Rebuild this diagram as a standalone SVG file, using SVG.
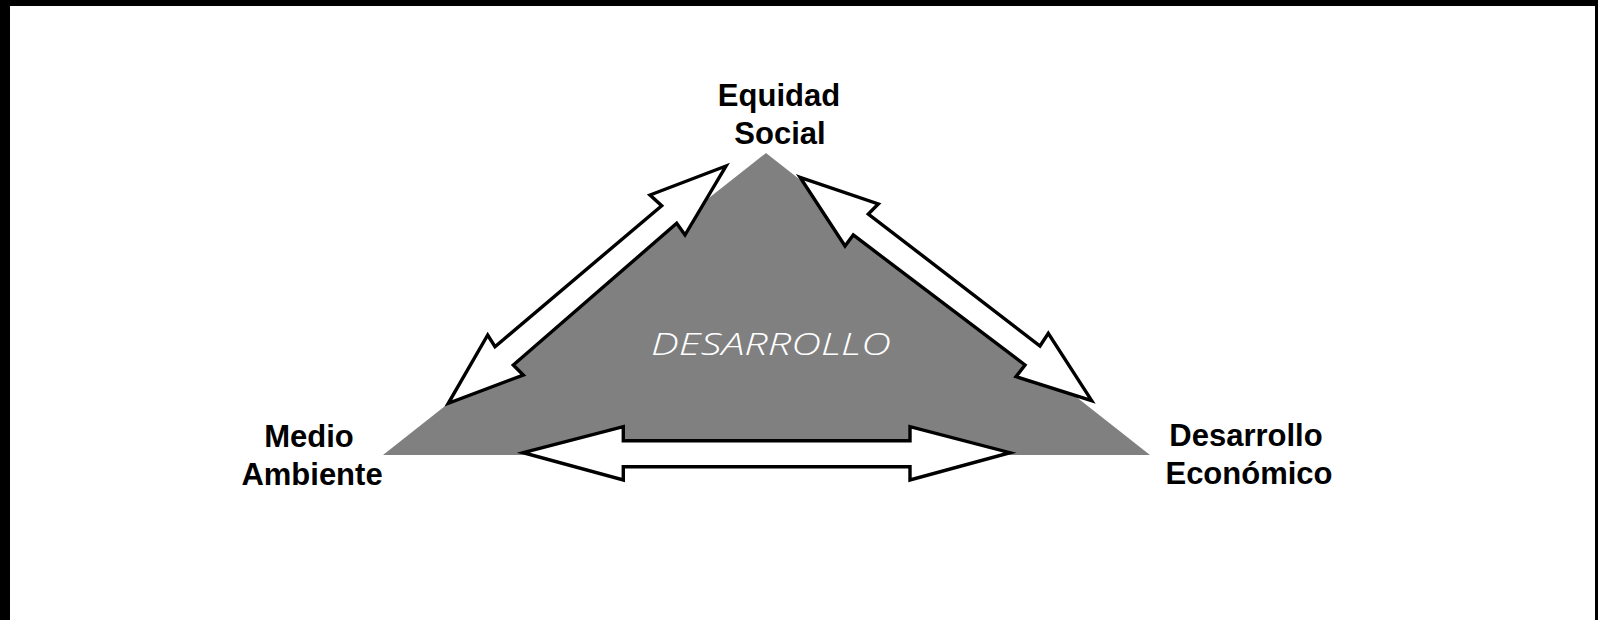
<svg xmlns="http://www.w3.org/2000/svg" width="1598" height="620" viewBox="0 0 1598 620">
<style>
.lbl{font-family:"Liberation Sans",Arial,sans-serif;font-weight:bold;font-size:31px;fill:#000;text-anchor:middle}
.arrow{fill:#fff;stroke:#000;stroke-width:3.4;stroke-linejoin:miter;stroke-miterlimit:10}
.center{font-family:"Open Sans","Liberation Sans",sans-serif;font-weight:300;font-style:italic;font-size:31px;fill:#fff}
</style>
<rect x="0" y="0" width="1598" height="620" fill="#fff"/>
<rect x="0" y="0" width="1598" height="6" fill="#000"/>
<rect x="0" y="0" width="10" height="620" fill="#000"/>
<rect x="1595" y="0" width="3" height="620" fill="#000"/>
<g id="triangle">
<polygon points="766,153 1150,455 383,455" fill="#808080"/>
<text class="center" x="651" y="355" textLength="240" lengthAdjust="spacingAndGlyphs">DESARROLLO</text>
</g>
<g id="connectors">
<polygon class="arrow" points="726,166 650,195 661.7,205.7 495,346.7 487.7,335 448.3,403.3 523.3,375 513.3,365 676.7,223.3 685,235"/>
<polygon class="arrow" points="800,177.3 878.3,204 868.3,214 1040,346 1048.3,333.3 1091.7,400.7 1016,376.7 1025,365 853.3,235 845,246"/>
<polygon class="arrow" points="523.3,452.7 623.3,426.7 623.3,440.7 910,440.7 910,426.7 1010,452.7 910,480 910,466.7 623.3,466.7 623.3,480"/>
</g>
<g id="node-equidad">
<text class="lbl" x="779" y="106">Equidad</text>
<text class="lbl" x="780" y="144">Social</text>
</g>
<g id="node-medio">
<text class="lbl" x="309" y="447">Medio</text>
<text class="lbl" x="312" y="485">Ambiente</text>
</g>
<g id="node-economico">
<text class="lbl" x="1246" y="446">Desarrollo</text>
<text class="lbl" x="1249" y="484">Económico</text>
</g>
</svg>
